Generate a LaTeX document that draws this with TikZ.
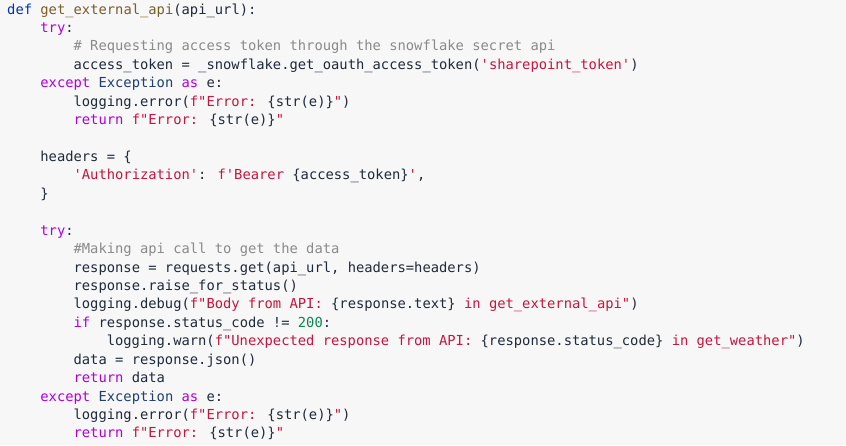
\documentclass[tikz,border=0pt]{standalone}
\usepackage{fontspec}
\newfontfamily\codefont{DejaVu Sans Mono}
\definecolor{codebg}{HTML}{F7F7F7}
\definecolor{codetxt}{HTML}{1F2A3A}
\definecolor{kwpurple}{HTML}{AF00DB}
\definecolor{defblue}{HTML}{0033B3}
\definecolor{funcbrown}{HTML}{795E26}
\definecolor{clsblue}{HTML}{1F3F6F}
\definecolor{strred}{HTML}{C4163E}
\definecolor{numgreen}{HTML}{098658}
\definecolor{cmtgrey}{HTML}{8A8A8A}
\newcommand{\kw}[1]{\textcolor{kwpurple}{#1}}
\newcommand{\df}[1]{\textcolor{defblue}{#1}}
\newcommand{\fn}[1]{\textcolor{funcbrown}{#1}}
\newcommand{\cls}[1]{\textcolor{clsblue}{#1}}
\newcommand{\str}[1]{\textcolor{strred}{#1}}
\newcommand{\num}[1]{\textcolor{numgreen}{#1}}
\newcommand{\cmt}[1]{\textcolor{cmtgrey}{#1}}
\tikzset{
  codeline/.style={anchor=base west, inner sep=0pt, text=codetxt,
    font=\codefont\fontsize{13.8}{16}\selectfont},
}
\begin{document}
\begin{tikzpicture}[x=1pt,y=-1pt]
\fill[codebg] (0,0) rectangle (846,445);
\useasboundingbox (0,0) rectangle (846,445);
% one node per line: indent level, line number, text
\foreach \ind/\ln/\txt in {
  0/1/{\df{def} \fn{get\_external\_api}(api\_url):},
  1/2/{\kw{try}:},
  2/3/{\cmt{\# Requesting access token through the snowflake secret api}},
  2/4/{access\_token = \_snowflake.get\_oauth\_access\_token(\str{'sharepoint\_token'})},
  1/5/{\kw{except} \cls{Exception} \kw{as} e:},
  2/6/{logging.error(\str{f"Error: }\{str(e)\}\str{"})},
  2/7/{\kw{return} \str{f"Error: }\{str(e)\}\str{"}},
  1/9/{headers = \{},
  2/10/{\str{'Authorization'}: \str{f'Bearer }\{access\_token\}\str{'},},
  1/11/{\}},
  1/13/{\kw{try}:},
  2/14/{\cmt{\#Making api call to get the data}},
  2/15/{response = requests.get(api\_url, headers=headers)},
  2/16/{response.raise\_for\_status()},
  2/17/{logging.debug(\str{f"Body from API: }\{response.text\}\str{\ in get\_external\_api"})},
  2/18/{\kw{if} response.status\_code != \num{200}:},
  3/19/{logging.warn(\str{f"Unexpected response from API: }\{response.status\_code\}\str{\ in get\_weather"})},
  2/20/{data = response.json()},
  2/21/{\kw{return} data},
  1/22/{\kw{except} \cls{Exception} \kw{as} e:},
  2/23/{logging.error(\str{f"Error: }\{str(e)\}\str{"})},
  2/24/{\kw{return} \str{f"Error: }\{str(e)\}\str{"}}
}{
  \node (line\ln) [codeline] at ({7+33.2*\ind},{14+18.43*(\ln-1)}) {\txt};
}
\end{tikzpicture}
\end{document}
